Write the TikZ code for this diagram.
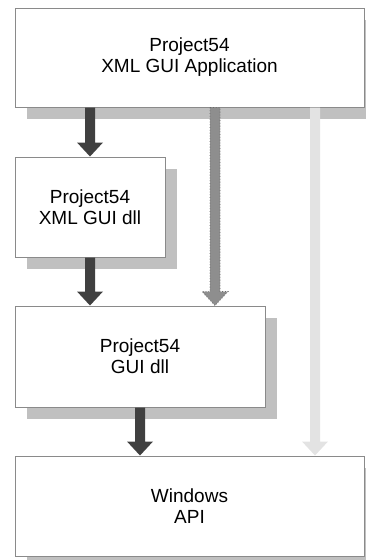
\documentclass[tikz,border=0pt]{standalone}
\usepackage{fontspec}
\setmainfont{Liberation Sans}
\usetikzlibrary{calc,shadows}
\definecolor{boxedge}{HTML}{8A8A8A}
\definecolor{shadowgray}{HTML}{C0C0C0}
\definecolor{darkarrow}{HTML}{404040}
\definecolor{midarrow}{HTML}{8E8E8E}
\definecolor{midedge}{HTML}{6A6A6A}
\definecolor{lightarrow}{HTML}{E3E3E3}
\tikzset{
  layerbox/.style={draw=boxedge, line width=1pt, fill=white, align=center,
    font=\fontsize{19}{21}\selectfont, inner sep=0pt,
    drop shadow={shadow xshift=12pt, shadow yshift=-12pt, fill=shadowgray, opacity=1}},
  darkblk/.style={fill=darkarrow, draw=none},
  midblk/.style={fill=midarrow, draw=midedge, dotted, line width=0.8pt},
  lightblk/.style={fill=lightarrow, draw=none}
}
\newcommand{\blkarrow}[3]{% style, start coord, end coord
  \path[#1] ($(#2)+(-5,0)$) -- ($(#3)+(-5,-14)$) -- ($(#3)+(-13,-14)$) -- (#3)
    -- ($(#3)+(13,-14)$) -- ($(#3)+(5,-14)$) -- ($(#2)+(5,0)$) -- cycle;}
\begin{document}
\begin{tikzpicture}[x=1pt,y=-1pt]
\useasboundingbox (0,0) rectangle (366,560);
\node[layerbox, minimum width=349pt, minimum height=99pt] (app) at (189.5,57.5) {Project54\\XML GUI Application};
\node[layerbox, minimum width=150pt, minimum height=100pt] (xmldll) at (90,207) {Project54\\XML GUI dll};
\node[layerbox, minimum width=250pt, minimum height=101pt] (guidll) at (140,356.5) {Project54\\GUI dll};
\node[layerbox, minimum width=349pt, minimum height=100pt] (win) at (189.5,506) {Windows\\API};
% connector end points
\coordinate (a1s) at (app.south -| 90,0);
\coordinate (a1e) at (xmldll.north);
\coordinate (a2s) at (xmldll.south);
\coordinate (a2e) at (guidll.north -| 90,0);
\coordinate (a3s) at (app.south -| 215,0);
\coordinate (a3e) at (guidll.north -| 215,0);
\coordinate (a4s) at (guidll.south);
\coordinate (a4e) at (win.north -| 140,0);
\coordinate (a5s) at (app.south -| 315,0);
\coordinate (a5e) at (win.north -| 315,0);
\blkarrow{darkblk}{a1s}{a1e}
\blkarrow{darkblk}{a2s}{a2e}
\blkarrow{midblk}{a3s}{a3e}
\blkarrow{darkblk}{a4s}{a4e}
\blkarrow{lightblk}{a5s}{a5e}
\end{tikzpicture}
\end{document}
